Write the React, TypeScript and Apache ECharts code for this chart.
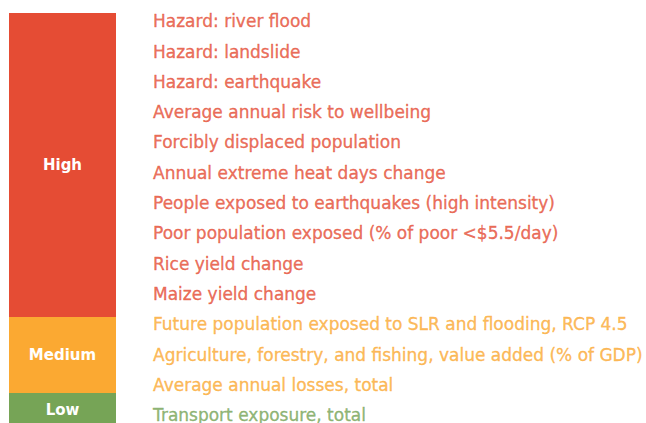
import React, { useEffect, useRef } from "react";
import * as echarts from "echarts";

const tiers = ["High", "Medium", "Low"];
const tierSizes = [10, 2.5, 1.12];
const tierColors = ["#E54C34", "#FBA932", "#76A456"];

const indicators = [
  "Hazard: river flood",
  "Hazard: landslide",
  "Hazard: earthquake",
  "Average annual risk to wellbeing",
  "Forcibly displaced population",
  "Annual extreme heat days change",
  "People exposed to earthquakes (high intensity)",
  "Poor population exposed (% of poor <$5.5/day)",
  "Rice yield change",
  "Maize yield change",
  "Future population exposed to SLR and flooding, RCP 4.5",
  "Agriculture, forestry, and fishing, value added (% of GDP)",
  "Average annual losses, total",
  "Transport exposure, total",
];
const indicatorTier = [0, 0, 0, 0, 0, 0, 0, 0, 0, 0, 1, 1, 1, 2];

const FONT = "'DejaVu Sans', sans-serif";

export default function App() {
  const ref = useRef<HTMLDivElement>(null);
  useEffect(() => {
    document.body.style.margin = "0";
    const chart = echarts.init(ref.current!, undefined, { renderer: "svg" });
    const total = tierSizes.reduce((a, b) => a + b, 0);
    chart.setOption({
      animation: false,
      grid: [
        { left: 9, top: 13, width: 107, height: 414, outerBoundsMode: "none" },
        { left: 153, top: 6.1, width: 490, height: 424.2, outerBoundsMode: "none" },
      ],
      xAxis: [
        { type: "category", gridIndex: 0, data: ["tier"], show: false },
        { type: "value", gridIndex: 1, min: 0, max: 1, show: false },
      ],
      yAxis: [
        { type: "value", gridIndex: 0, inverse: true, min: 0, max: total, show: false },
        {
          type: "category",
          gridIndex: 1,
          inverse: true,
          data: indicators,
          show: false,
        },
      ],
      series: [
        ...tiers.map((t, i) => ({
          type: "bar",
          name: t,
          stack: "tiers",
          xAxisIndex: 0,
          yAxisIndex: 0,
          barWidth: "100%",
          data: [tierSizes[i]],
          itemStyle: { color: tierColors[i] },
          label: {
            show: true,
            position: "inside",
            formatter: t,
            color: "#ffffff",
            fontFamily: FONT,
            fontWeight: "bold",
            fontSize: 15,
          },
        })),
        {
          type: "scatter",
          xAxisIndex: 1,
          yAxisIndex: 1,
          symbolSize: 0,
          data: indicators.map((name, i) => ({
            name,
            value: [0, i],
            label: {
              color: tierColors[indicatorTier[i]],
              textBorderColor: tierColors[indicatorTier[i]],
              textBorderWidth: 0.35,
            },
          })),
          label: {
            show: true,
            position: "right",
            distance: 0,
            formatter: (p: any) => p.name,
            fontFamily: FONT,
            fontSize: 17,
          },
        },
      ],
    });
    return () => chart.dispose();
  }, []);
  return <div ref={ref} style={{ width: 646, height: 423 }} />;
}
